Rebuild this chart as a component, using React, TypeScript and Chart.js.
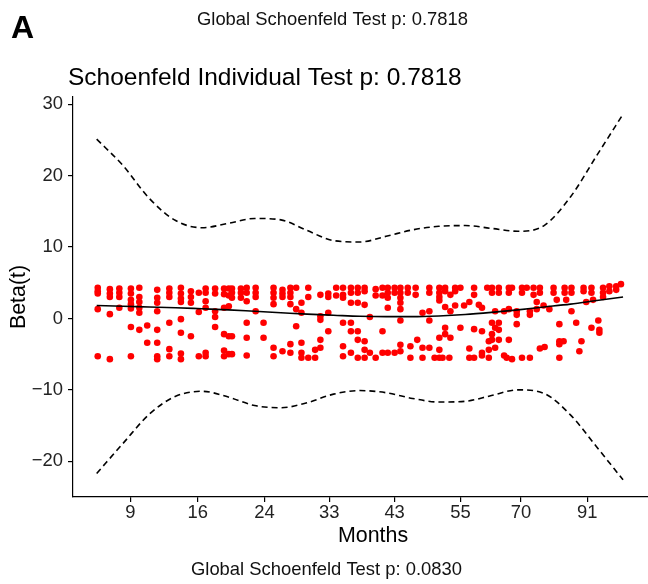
import React, { useEffect, useRef } from "react";
import { Chart, registerables } from "chart.js";

Chart.register(...registerables);

// x axis: transformed (rank) time, 0..100; labels show months
const tickPositions = [6.4, 19.2, 31.9, 44.2, 56.6, 69.1, 80.6, 93.2];
const tickLabels = ["9", "16", "24", "33", "43", "55", "70", "91"];
const yTicks = [-20, -10, 0, 10, 20, 30];

const curveTimes = [0, 5, 10, 15, 20, 25, 30, 35, 40, 45, 50, 55, 60, 65, 70, 75, 80, 85, 90, 95, 100];
const fitBeta = [1.8, 1.7, 1.6, 1.5, 1.35, 1.2, 1.0, 0.8, 0.6, 0.45, 0.3, 0.25, 0.25, 0.35, 0.55, 0.85, 1.2, 1.6, 2.0, 2.5, 3.0];
const upperBand = [25.1, 21.4, 16.8, 13.7, 12.7, 13.3, 14.0, 13.8, 12.3, 10.9, 10.7, 11.5, 12.4, 12.9, 13.0, 12.6, 12.2, 13.0, 17.0, 22.8, 28.6];
const lowerBand = [-21.7, -17.5, -13.4, -10.9, -10.2, -11.0, -12.2, -12.5, -11.8, -10.6, -10.1, -10.4, -11.2, -11.7, -11.6, -10.8, -10.0, -10.5, -13.5, -18.0, -22.6];

const pointTimes = [
  0.2, 2.5, 4.3, 6.5, 8.1, 9.6, 11.5, 13.8, 16.0, 17.9, 19.4, 20.7, 22.5, 24.2,
  25.1, 25.7, 27.4, 28.5, 30.2, 31.7, 33.6, 35.3, 36.8, 37.9, 38.9, 40.2, 41.5,
  42.5, 44.0, 45.5, 46.8, 48.3, 49.6, 50.9, 51.9, 53.0, 54.3, 55.3, 56.6, 57.7,
  59.1, 59.6, 60.6, 60.9, 61.9, 63.2, 64.2, 65.1, 65.7, 66.2, 67.0, 67.2, 68.1,
  69.1, 69.8, 70.8, 71.7, 72.6, 73.2, 74.2, 74.5, 75.1, 75.7, 76.4, 77.4, 77.9,
  78.3, 78.9, 79.8, 80.8, 81.7, 82.3, 83.0, 83.6, 84.2, 84.9, 85.1, 86.0, 86.8,
  87.4, 87.9, 88.7, 88.9, 89.2, 90.2, 91.1, 91.7, 92.1, 92.5, 93.0, 94.0, 94.3,
  95.3, 95.5, 96.2, 97.4, 98.7, 99.6,
];
const pointBetas = [
  [4.3, 3.8, 3.5, 1.3, -5.3],
  [4.1, 3.5, 3.0, 0.6, -5.7],
  [4.2, 3.6, 3.0, 1.5],
  [4.2, 3.5, 2.6, 2.0, 1.4, -1.2, -5.3],
  [4.3, 3.0, 2.3, 1.5, 0.8, -1.6],
  [-1.0, -3.4],
  [4.0, 2.9, 2.2, 1.0, -1.6, -3.4, -5.3, -5.7],
  [4.2, 3.6, 3.0, -0.6, -4.3, -5.3],
  [4.3, 3.5, 2.8, 2.3, -0.1, -2.0, -4.9, -5.7],
  [3.8, 3.0, 2.2, -2.5],
  [3.6, 0.9, -5.3],
  [4.2, 3.6, 2.4, 1.5, -4.8, -5.3],
  [4.2, 3.5, 1.0, 0.2, -1.2],
  [4.2, 3.4, 1.5, -2.2, -4.5, -5.3],
  [4.2, 3.2, 1.7, -2.5, -5.0],
  [4.2, 3.6, 2.9, -2.5, -5.0],
  [4.2, 3.6, 2.9],
  [4.3, 3.6, 2.4, -0.6, -2.7, -5.2],
  [4.3, 3.6, 3.0, 1.0],
  [-0.6, -2.7],
  [4.3, 3.6, 2.9, 2.0, -4.1, -5.3],
  [4.0, 3.5, 3.0, -4.6],
  [4.3, 3.6, 3.0, 2.0, -3.6, -4.8],
  [4.3, 1.3, -1.1],
  [2.2, 0.8, -3.4, -4.8, -5.5],
  [4.3, 3.0, -5.5],
  [-4.4, -5.5],
  [3.3, 0.3, -0.2, -3.0, -4.1],
  [3.5, 3.0, 0.8, -1.8],
  [4.3, 3.2],
  [4.3, 3.3, 2.9, -0.6, -3.9, -5.3],
  [4.3, 3.6, 2.2, -0.6, -1.8, -4.8],
  [4.3, 3.6, 2.2, -1.8, -3.0, -5.5],
  [4.3, 3.8, 1.9, -3.2, -4.4, -5.5],
  [0.2, -4.8],
  [4.1, 3.2, -5.5],
  [4.3, 3.2, -1.8, -4.8],
  [4.3, 3.6, 2.9, 1.5, -4.8],
  [4.3, 3.6, -4.8],
  [4.3, 3.6, 2.9, 2.2, 1.3, -0.3, -3.7, -4.6],
  [4.3, 3.6],
  [-3.9, -5.5],
  [4.3, 3.3],
  [-3.0],
  [0.8, -4.1, -5.5],
  [4.3, 3.6, 1.0, -0.3, -4.1],
  [-5.5],
  [4.3, 3.6, 3.0, 2.5, -2.7, -4.4, -5.5],
  [-5.5],
  [4.3, 3.8, 1.6, -1.3, -2.2],
  [-5.5],
  [3.3, 1.0, -2.7],
  [4.3, 3.8, 1.8],
  [4.3, -1.3],
  [1.8],
  [2.3, -4.2, -5.5],
  [4.3, 3.3, -1.5, -5.5],
  [1.9],
  [1.5, -1.8, -4.8, -5.2],
  [4.3],
  [-3.2, -4.4, -5.5],
  [4.3, 3.6, -0.6, -2.2, -3.0],
  [1.0, -1.3, -4.1],
  [4.3, 3.6, -0.6, -1.6, -3.0],
  [1.0, -5.2],
  [-5.5],
  [4.3, 3.6, 1.3, -3.0],
  [4.3, -5.7],
  [1.0, 0.5, -0.8],
  [4.3, 3.6, -5.5],
  [4.3],
  [1.0, 0.5, -5.5],
  [4.3, 3.3],
  [2.3, 1.3],
  [4.3, 3.6, -4.2],
  [1.8],
  [-4.0],
  [1.3],
  [4.3, 3.6],
  [2.6],
  [-0.8, -3.2, -3.6, -5.5],
  [-3.2],
  [4.3, 3.6],
  [2.6],
  [4.3, 3.6, 1.0],
  [-0.6],
  [-4.6],
  [-3.2],
  [4.3, 3.8],
  [2.3],
  [4.3, 3.6, -1.3],
  [2.6],
  [-0.3],
  [-1.6, -2.0],
  [4.3, 3.6, 3.0],
  [4.5, 3.8],
  [4.5, 4.0],
  [4.8],
];

const FONT = '"Liberation Sans", Arial, Helvetica, sans-serif';

const textPlugin = {
  id: "annotTexts",
  afterDraw(chart: any) {
    const ctx = chart.ctx;
    ctx.save();
    ctx.fillStyle = "#000";
    ctx.textBaseline = "alphabetic";
    ctx.textAlign = "left";
    ctx.font = `bold 32px ${FONT}`;
    ctx.fillText("A", 11, 38);
    ctx.font = `18.4px ${FONT}`;
    ctx.fillStyle = "#111";
    ctx.fillText("Global Schoenfeld Test p: 0.7818", 197, 25);
    ctx.fillText("Global Schoenfeld Test p: 0.0830", 191, 575);
    ctx.fillStyle = "#000";
    ctx.font = `24.5px ${FONT}`;
    ctx.fillText("Schoenfeld Individual Test p: 0.7818", 68, 85);
    ctx.font = `21.4px ${FONT}`;
    ctx.textAlign = "center";
    ctx.fillText("Months", 373, 542);
    ctx.restore();
  },
};

export default function App() {
  const ref = useRef<HTMLCanvasElement | null>(null);

  useEffect(() => {
    const canvas = ref.current;
    if (!canvas) return;
    const scatterData: { x: number; y: number }[] = [];
    pointTimes.forEach((t, i) => {
      pointBetas[i].forEach((b) => scatterData.push({ x: t, y: b }));
    });
    const fitData = curveTimes.map((t, i) => ({ x: t, y: fitBeta[i] }));
    const upData = curveTimes.map((t, i) => ({ x: t, y: upperBand[i] }));
    const loData = curveTimes.map((t, i) => ({ x: t, y: lowerBand[i] }));

    const chart = new Chart(canvas, {
      type: "scatter",
      data: {
        datasets: [
          {
            type: "line",
            data: fitData,
            borderColor: "#000",
            borderWidth: 1.6,
            pointRadius: 0,
            cubicInterpolationMode: "monotone",
            order: 0,
          } as any,
          {
            type: "line",
            data: upData,
            borderColor: "#000",
            borderWidth: 1.6,
            borderDash: [6, 4],
            pointRadius: 0,
            cubicInterpolationMode: "monotone",
            order: 1,
          } as any,
          {
            type: "line",
            data: loData,
            borderColor: "#000",
            borderWidth: 1.6,
            borderDash: [6, 4],
            pointRadius: 0,
            cubicInterpolationMode: "monotone",
            order: 1,
          } as any,
          {
            type: "scatter",
            data: scatterData,
            backgroundColor: "#ff0000",
            borderWidth: 0,
            pointRadius: 3.3,
            order: 2,
          } as any,
        ],
      },
      options: {
        animation: false,
        responsive: false,
        devicePixelRatio: 1,
        layout: { padding: { top: 97, left: 0, right: 0, bottom: 0 } },
        plugins: { legend: { display: false }, tooltip: { enabled: false }, title: { display: false } },
        scales: {
          x: {
            type: "linear",
            min: -4.5,
            max: 105.5,
            afterFit: (s: any) => {
              s.height = 87;
            },
            afterBuildTicks: (s: any) => {
              s.ticks = tickPositions.map((v) => ({ value: v }));
            },
            ticks: {
              autoSkip: false,
              maxRotation: 0,
              padding: 0,
              color: "#222",
              font: { family: FONT, size: 18.4 },
              callback: (v: any) => {
                const i = tickPositions.indexOf(Number(v));
                return i >= 0 ? tickLabels[i] : "";
              },
            },
            grid: { drawOnChartArea: false, drawTicks: true, tickLength: 5, color: "#000", tickColor: "#000", lineWidth: 1.2 },
            border: { display: true, color: "#000", width: 1.2 },
            title: { display: false },
          },
          y: {
            type: "linear",
            min: -25,
            max: 31,
            afterFit: (s: any) => {
              s.width = 73;
            },
            afterBuildTicks: (s: any) => {
              s.ticks = yTicks.map((v) => ({ value: v }));
            },
            ticks: {
              padding: 5,
              color: "#222",
              font: { family: FONT, size: 18.4 },
              callback: (v: any) => (Number(v) < 0 ? "\u2212" + Math.abs(Number(v)) : String(v)),
            },
            grid: { drawOnChartArea: false, drawTicks: true, tickLength: 5, color: "#000", tickColor: "#000", lineWidth: 1.2 },
            border: { display: true, color: "#000", width: 1.2 },
            title: {
              display: true,
              text: "Beta(t)",
              color: "#000",
              font: { family: FONT, size: 21.4 },
              padding: { top: 6, bottom: 0 },
            },
          },
        },
      },
      plugins: [textPlugin],
    });
    return () => chart.destroy();
  }, []);

  return (
    <div style={{ position: "absolute", left: 0, top: 0, width: 648, height: 584, overflow: "hidden", background: "#fff" }}>
      <canvas ref={ref} width={656} height={584} style={{ display: "block" }} />
    </div>
  );
}
